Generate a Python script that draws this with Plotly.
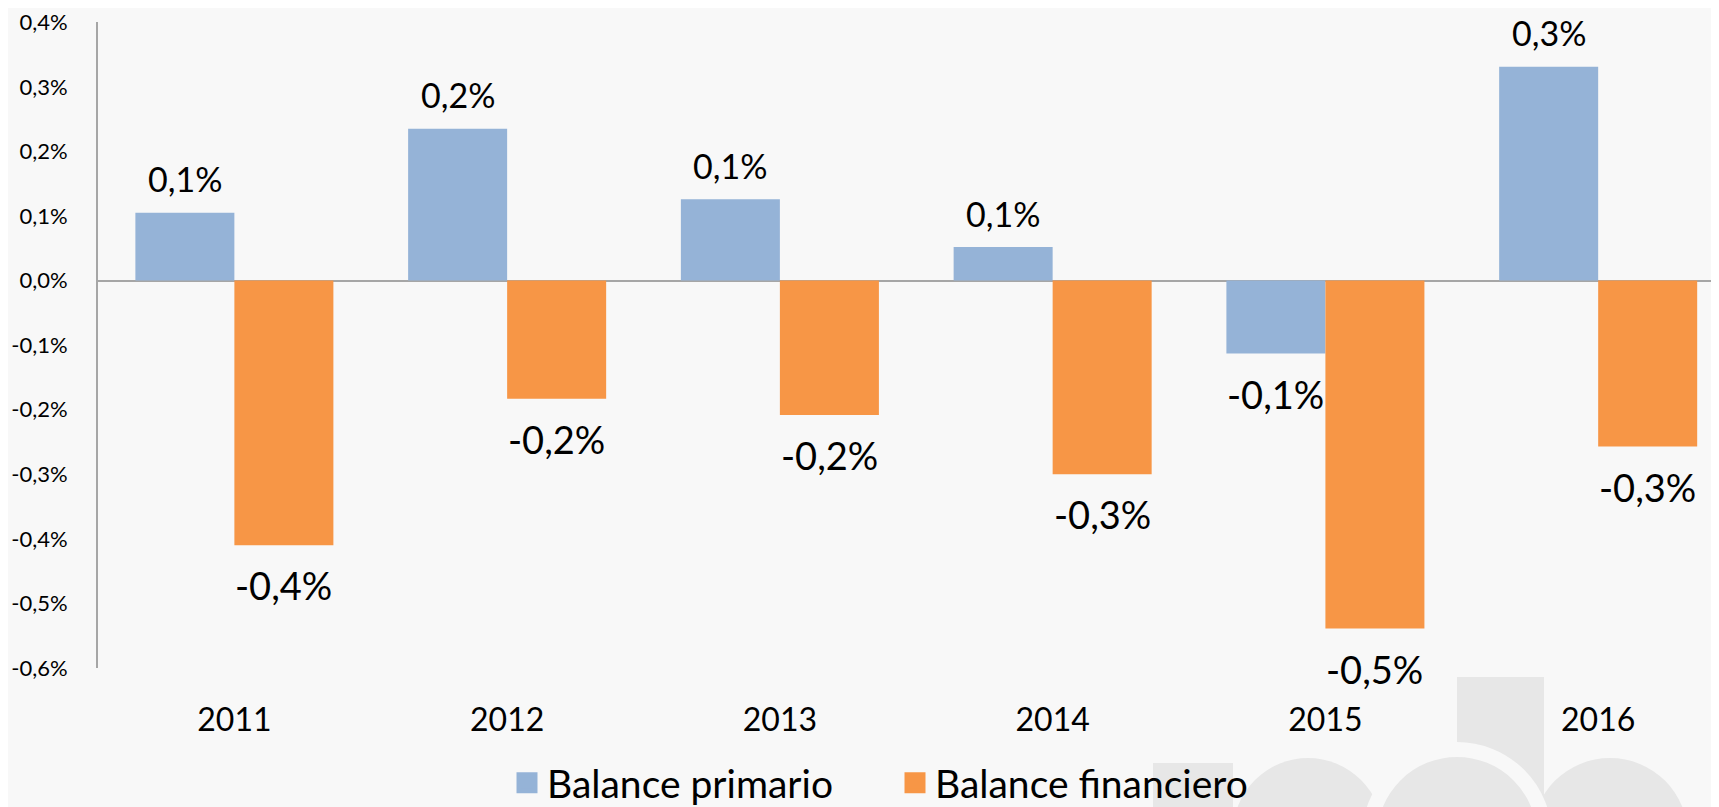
import plotly.graph_objects as go

years = ["2011", "2012", "2013", "2014", "2015", "2016"]
balance_primario = [0.105, 0.235, 0.126, 0.052, -0.113, 0.331]
balance_financiero = [-0.41, -0.183, -0.208, -0.300, -0.539, -0.257]
y_tickvals = [0.4, 0.3, 0.2, 0.1, 0.0, -0.1, -0.2, -0.3, -0.4, -0.5, -0.6]
y_ticktext = ["0,4%", "0,3%", "0,2%", "0,1%", "0,0%", "-0,1%", "-0,2%", "-0,3%", "-0,4%", "-0,5%", "-0,6%"]

BLUE = "#95b3d7"
ORANGE = "#f79646"
FONT = "Lato"

def fmt(v):
    return f"{v:.1f}".replace(".", ",") + "%"

fig = go.Figure()
fig.add_trace(go.Bar(x=years, y=balance_primario, name="Balance primario",
                     marker=dict(color=BLUE, line=dict(width=0)), showlegend=False))
fig.add_trace(go.Bar(x=years, y=balance_financiero, name="Balance financiero",
                     marker=dict(color=ORANGE, line=dict(width=0)), showlegend=False))
# legend entries with larger square symbols
fig.add_trace(go.Scatter(x=[None], y=[None], mode="markers", name="Balance primario",
                         marker=dict(symbol="square", size=16, color=BLUE, line=dict(color=BLUE, width=5))))
fig.add_trace(go.Scatter(x=[None], y=[None], mode="markers", name="Balance financiero",
                         marker=dict(symbol="square", size=16, color=ORANGE, line=dict(color=ORANGE, width=5))))

annotations = []
for i, yr in enumerate(years):
    for vals, sh in ((balance_primario, -49.5), (balance_financiero, 49.5)):
        v = vals[i]
        pos = v >= 0
        annotations.append(dict(
            x=i, y=v, xref="x", yref="y", text=fmt(v), showarrow=False,
            xshift=sh, yshift=34 if pos else -40, yanchor="middle",
            font=dict(family=FONT, size=34 if pos else 38, color="#000000")))

# page body has an 8px margin; figure sized to fit the window
OFF = 8
FW, FH = 1711, 799
L, T, H = 90, 14, 646
W = FW - L

def px(X):  # X in window pixels
    return (X - OFF - L) / W

def py(Y):
    return (T + H - (Y - OFF)) / H

WM = "#e7e7e7"
BG = "#f8f8f8"
shapes = [
    dict(type="rect", x0=px(1153), x1=px(1233), y0=py(763), y1=py(830), fillcolor=WM, line=dict(width=0)),
    dict(type="circle", x0=px(1233), x1=px(1383), y0=py(758), y1=py(908), fillcolor=WM, line=dict(width=0)),
    dict(type="rect", x0=px(1457), x1=px(1544), y0=py(677), y1=py(830), fillcolor=WM, line=dict(width=0)),
    dict(type="circle", x0=px(1532), x1=px(1688), y0=py(758), y1=py(914), fillcolor=WM, line=dict(width=0)),
    dict(type="circle", x0=px(1369.5), x1=px(1544.5), y0=py(749.5), y1=py(924.5), fillcolor=WM,
         line=dict(width=15, color=BG)),
]
for s in shapes:
    s["xref"] = "paper"
    s["yref"] = "paper"
    s["layer"] = "below"

fig.update_layout(
    width=FW, height=FH,
    margin=dict(l=L, r=0, t=T, b=FH - T - H, autoexpand=False),
    paper_bgcolor=BG, plot_bgcolor="rgba(0,0,0,0)",
    barmode="group", bargap=0.274, bargroupgap=0,
    font=dict(family=FONT, color="#000000"),
    showlegend=True,
    legend=dict(orientation="h", x=px(507), xanchor="left", y=py(783), yanchor="middle",
                font=dict(family=FONT, size=39, color="#000000"),
                bgcolor="rgba(0,0,0,0)", itemclick=False, entrywidth=343, entrywidthmode="pixels"),
    xaxis=dict(type="category", range=[-0.5, 5.443], showgrid=False, showline=False, zeroline=False,
               ticks="", tickfont=dict(family=FONT, size=32, color="#000000"), ticklabelstandoff=30,
               fixedrange=True),
    yaxis=dict(range=[-0.6, 0.4005], tickvals=y_tickvals, ticktext=y_ticktext, showgrid=False,
               showline=True, linecolor="#a6a6a6", linewidth=2,
               zeroline=True, zerolinecolor="#a6a6a6", zerolinewidth=2,
               ticks="", tickfont=dict(family=FONT, size=22, color="#000000"), ticklabelstandoff=24,
               fixedrange=True),
    annotations=annotations,
    shapes=shapes,
)

fig.write_html("out.html")
